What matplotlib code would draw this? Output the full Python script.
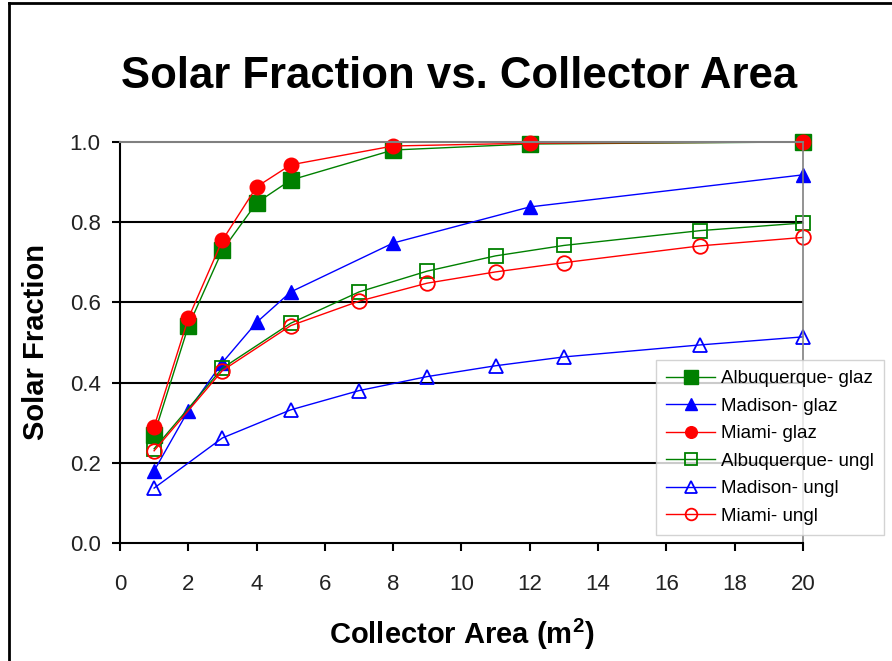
import numpy as np
import matplotlib
matplotlib.use('Agg')
import matplotlib.pyplot as plt
from matplotlib.lines import Line2D

plt.rcParams['font.family'] = ['Liberation Sans', 'DejaVu Sans']
plt.rcParams['mathtext.fontset'] = 'custom'
plt.rcParams['mathtext.bf'] = 'Liberation Sans:bold'

# glazed collectors
area_glaz = [1, 2, 3, 4, 5, 8, 12, 20]
alb_glaz = [0.27, 0.54, 0.73, 0.848, 0.905, 0.98, 0.995, 1.0]
mad_glaz = [0.18, 0.33, 0.45, 0.55, 0.626, 0.748, 0.838, 0.918]
mia_glaz = [0.29, 0.56, 0.755, 0.888, 0.943, 0.99, 0.997, 1.0]

# unglazed collectors
area_ungl = [1, 3, 5, 7, 9, 11, 13, 17, 20]
alb_ungl = [0.235, 0.436, 0.548, 0.626, 0.678, 0.716, 0.742, 0.779, 0.798]
mad_ungl = [0.137, 0.262, 0.332, 0.38, 0.415, 0.442, 0.464, 0.494, 0.514]
mia_ungl = [0.23, 0.43, 0.542, 0.603, 0.648, 0.676, 0.699, 0.741, 0.762]

green = '#008000'
blue = '#0000ff'
red = '#ff0000'

fig = plt.figure(figsize=(8.92, 6.61), dpi=100)
ax = fig.add_axes([0.1345, 0.1785, 0.7655, 0.6067])

ax.plot(area_glaz, alb_glaz, color=green, lw=1.0, marker='s', ms=12, mfc=green, mec=green,
        clip_on=False, label='Albuquerque- glaz')
ax.plot(area_glaz, mad_glaz, color=blue, lw=1.0, marker='^', ms=10.5, mfc=blue, mec=blue,
        clip_on=False, label='Madison- glaz')
ax.plot(area_glaz, mia_glaz, color=red, lw=1.0, marker='o', ms=10.5, mfc=red, mec=red,
        clip_on=False, label='Miami- glaz')
ax.plot(area_ungl, alb_ungl, color=green, lw=1.0, marker='s', ms=10.5, mfc='none', mec=green,
        mew=1.3, clip_on=False, label='Albuquerque- ungl')
ax.plot(area_ungl, mad_ungl, color=blue, lw=1.0, marker='^', ms=10.5, mfc='none', mec=blue,
        mew=1.3, clip_on=False, label='Madison- ungl')
ax.plot(area_ungl, mia_ungl, color=red, lw=1.0, marker='o', ms=10.5, mfc='none', mec=red,
        mew=1.3, clip_on=False, label='Miami- ungl')

ax.set_xlim(0, 20)
ax.set_ylim(0, 1.0)
ax.set_xticks(np.arange(0, 21, 2))
ax.set_yticks(np.arange(0, 1.01, 0.2))
ax.set_yticklabels(['%.1f' % v for v in np.arange(0, 1.01, 0.2)])

for yv in [0.2, 0.4, 0.6, 0.8]:
    ax.axhline(yv, color='black', lw=1.5, zorder=0)

ax.spines['left'].set_color('black')
ax.spines['left'].set_linewidth(1.5)
ax.spines['bottom'].set_color('black')
ax.spines['bottom'].set_linewidth(1.5)
ax.spines['top'].set_color('#808080')
ax.spines['top'].set_linewidth(1.5)
ax.spines['right'].set_color('#808080')
ax.spines['right'].set_linewidth(1.2)

ax.tick_params(axis='both', direction='out', length=6, width=1.5, labelsize=16,
               labelcolor='#222222')
ax.tick_params(axis='x', pad=16)
ax.tick_params(axis='y', pad=8)

ax.set_xlabel(r'Collector Area (m$^\mathbf{2}$)', fontsize=21, fontweight='bold', labelpad=16)
ax.set_ylabel('Solar Fraction', fontsize=21, fontweight='bold', labelpad=14)
fig.text(0.515, 0.884, 'Solar Fraction vs. Collector Area', fontsize=31.5, fontweight='bold',
         ha='center', va='center')

leg = ax.legend(loc='upper left', bbox_to_anchor=(0.7354, 0.4554), bbox_transform=fig.transFigure,
                borderaxespad=0, fontsize=13.5, frameon=True, fancybox=False, edgecolor='#c8c8c8',
                handlelength=2.6, handletextpad=0.3, borderpad=0.55, labelspacing=0.55,
                markerscale=0.8)
leg.get_frame().set_linewidth(1.0)

# outer chart border
fig.add_artist(Line2D([0.01, 0.01], [0.0, 0.995], color='black', lw=2, transform=fig.transFigure))
fig.add_artist(Line2D([0.01, 1.0], [0.995, 0.995], color='black', lw=2, transform=fig.transFigure))

fig.savefig('out.png', dpi=100)
